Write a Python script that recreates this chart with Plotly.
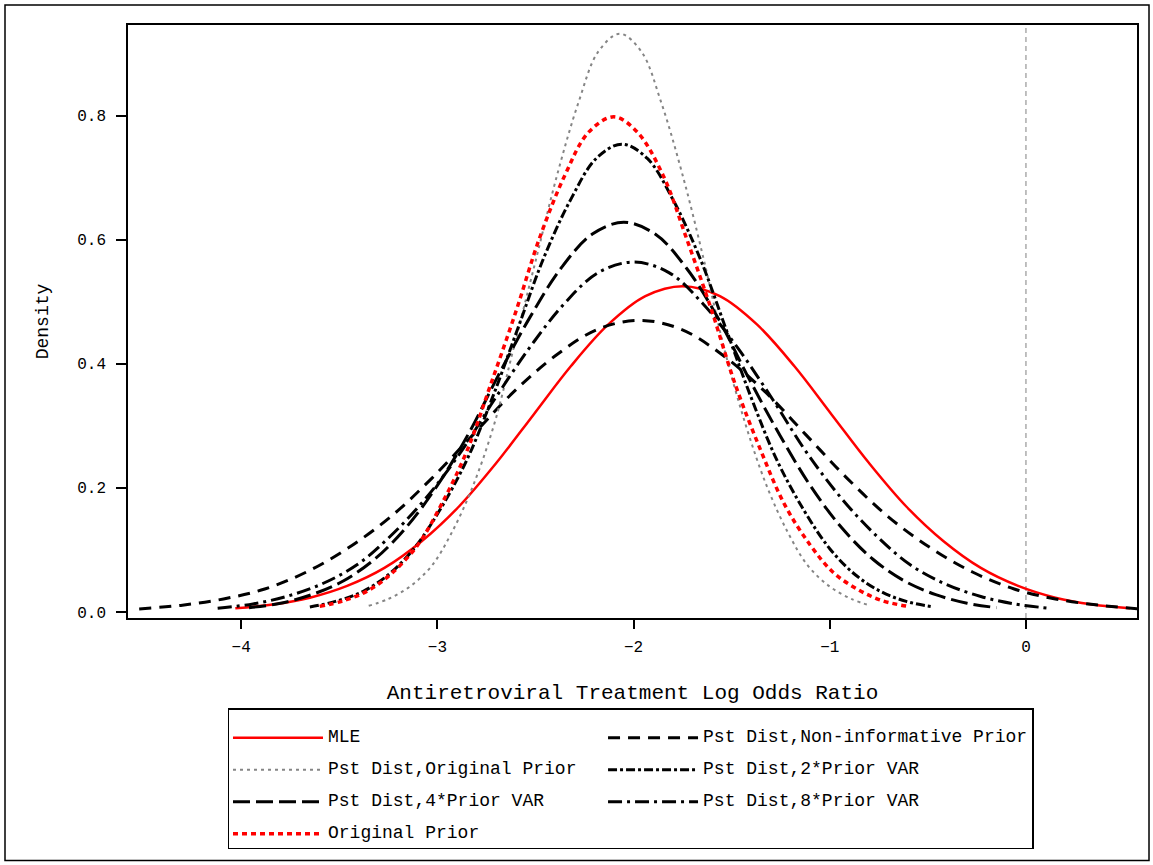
import plotly.graph_objects as go

# ---- data ----
mle_x = [-4.03, -3.84, -3.65, -3.46, -3.27, -3.08, -2.89, -2.70, -2.51, -2.32, -2.13, -1.94, -1.75,
         -1.56, -1.37, -1.18, -0.99, -0.80, -0.61, -0.42, -0.23, -0.04, 0.15, 0.34, 0.53]
mle_y = [0.006, 0.012, 0.023, 0.042, 0.071, 0.114, 0.170, 0.240, 0.318, 0.396, 0.463, 0.509, 0.525,
         0.509, 0.463, 0.396, 0.318, 0.240, 0.170, 0.114, 0.071, 0.042, 0.023, 0.012, 0.006]

noninf_x = [-4.52, -4.30, -4.09, -3.88, -3.67, -3.46, -3.24, -3.03, -2.82, -2.61, -2.39, -2.18, -1.97,
            -1.76, -1.55, -1.33, -1.12, -0.91, -0.70, -0.48, -0.27, -0.06, 0.15, 0.37, 0.58]
noninf_y = [0.005, 0.011, 0.021, 0.037, 0.064, 0.102, 0.153, 0.215, 0.285, 0.355, 0.415, 0.456, 0.470,
            0.456, 0.415, 0.355, 0.285, 0.215, 0.153, 0.102, 0.064, 0.037, 0.021, 0.011, 0.005]

pstorig_x = [-3.35, -3.25, -3.14, -3.03, -2.93, -2.82, -2.71, -2.61, -2.50, -2.39, -2.28, -2.18, -2.07,
             -1.96, -1.86, -1.75, -1.64, -1.54, -1.43, -1.32, -1.21, -1.11, -1.00, -0.89, -0.79]
pstorig_y = [0.010, 0.021, 0.041, 0.074, 0.126, 0.202, 0.303, 0.427, 0.565, 0.704, 0.822, 0.903, 0.932,
             0.903, 0.822, 0.704, 0.565, 0.427, 0.303, 0.202, 0.126, 0.074, 0.041, 0.021, 0.010]

var2_x = [-3.65, -3.52, -3.38, -3.25, -3.12, -2.99, -2.85, -2.72, -2.59, -2.46, -2.32, -2.19, -2.06,
          -1.93, -1.80, -1.66, -1.53, -1.40, -1.27, -1.13, -1.00, -0.87, -0.74, -0.61, -0.47]
var2_y = [0.008, 0.017, 0.033, 0.060, 0.102, 0.163, 0.245, 0.345, 0.457, 0.569, 0.665, 0.731, 0.754,
          0.731, 0.665, 0.569, 0.457, 0.345, 0.245, 0.163, 0.102, 0.060, 0.033, 0.017, 0.008]

var4_x = [-3.96, -3.80, -3.64, -3.48, -3.32, -3.16, -3.00, -2.84, -2.69, -2.53, -2.37, -2.21, -2.05,
          -1.89, -1.73, -1.57, -1.42, -1.26, -1.10, -0.94, -0.78, -0.62, -0.46, -0.30, -0.15]
var4_y = [0.007, 0.014, 0.028, 0.050, 0.085, 0.136, 0.204, 0.288, 0.381, 0.474, 0.554, 0.609, 0.628,
          0.609, 0.554, 0.474, 0.381, 0.288, 0.204, 0.136, 0.085, 0.050, 0.028, 0.014, 0.007]

var8_x = [-4.12, -3.94, -3.77, -3.59, -3.41, -3.24, -3.06, -2.88, -2.71, -2.53, -2.35, -2.18, -2.00,
          -1.82, -1.65, -1.47, -1.29, -1.12, -0.94, -0.76, -0.59, -0.41, -0.23, -0.06, 0.12]
var8_y = [0.006, 0.013, 0.025, 0.045, 0.076, 0.122, 0.183, 0.258, 0.342, 0.426, 0.498, 0.547, 0.564,
          0.547, 0.498, 0.426, 0.342, 0.258, 0.183, 0.122, 0.076, 0.045, 0.025, 0.013, 0.006]

prior_x = [-3.60, -3.48, -3.35, -3.23, -3.10, -2.98, -2.85, -2.73, -2.60, -2.48, -2.35, -2.23, -2.10,
           -1.98, -1.85, -1.73, -1.60, -1.48, -1.35, -1.23, -1.10, -0.98, -0.85, -0.73, -0.60]
prior_y = [0.009, 0.018, 0.035, 0.063, 0.108, 0.173, 0.259, 0.365, 0.484, 0.602, 0.704, 0.773, 0.798,
           0.773, 0.704, 0.602, 0.484, 0.365, 0.259, 0.173, 0.108, 0.063, 0.035, 0.018, 0.009]

x_ticks = [-4, -3, -2, -1, 0]
y_ticks = [0.0, 0.2, 0.4, 0.6, 0.8]

FONT = "Liberation Mono, DejaVu Sans Mono, monospace"


def legend_label(text, pad=0):
    # blank first line gives the taller legend rows of the original
    return "<br><span style='font-size:18px'>" + text + "\u00a0" * pad + "</span>"


fig = go.Figure()

# (name, x, y, line style, legend column group, padding)
series = [
    ("MLE", mle_x, mle_y, dict(color="#ff0000", width=2.5, dash="solid"), "a", 0),
    ("Pst Dist,Non-informative Prior", noninf_x, noninf_y,
     dict(color="black", width=3, dash="12px,8px"), "b", 0),
    ("Pst Dist,Original Prior", pstorig_x, pstorig_y,
     dict(color="#858585", width=2, dash="3px,4px"), "a", 2),
    ("Pst Dist,2*Prior VAR", var2_x, var2_y,
     dict(color="black", width=3, dash="9px,3px,3px,3px"), "b", 0),
    ("Pst Dist,4*Prior VAR", var4_x, var4_y,
     dict(color="black", width=3, dash="17px,6px"), "a", 0),
    ("Pst Dist,8*Prior VAR", var8_x, var8_y,
     dict(color="black", width=3, dash="14px,5px,3px,5px"), "b", 0),
    ("Original Prior", prior_x, prior_y,
     dict(color="#ff0000", width=3.5, dash="5px,4px"), "a", 0),
]

for name, xs, ys, line, grp, pad in series:
    fig.add_trace(go.Scatter(
        x=xs, y=ys, mode="lines", name=legend_label(name, pad), legendgroup=grp,
        line=dict(shape="spline", smoothing=1.0, **line),
        hovertemplate=name + ": %{x}, %{y}<extra></extra>",
    ))

# vertical reference line at 0
fig.add_shape(type="line", xref="x", yref="paper", x0=0, x1=0, y0=0, y1=1,
              line=dict(color="#808080", width=1, dash="5px,4px"), layer="below")

# outer frame around the whole picture
fig.add_shape(type="rect", xref="paper", yref="paper",
              x0=-0.1219, x1=1.0119, y0=-0.409, y1=1.0337,
              line=dict(color="black", width=1.5), fillcolor="rgba(0,0,0,0)")

fig.update_layout(
    width=1153, height=865,
    margin=dict(l=128, r=16, t=25, b=247),
    paper_bgcolor="white", plot_bgcolor="white",
    font=dict(family=FONT, color="black", size=16),
    showlegend=True,
    legend=dict(
        orientation="h", x=0.0991, y=-0.1518, xanchor="left", yanchor="top",
        bordercolor="black", borderwidth=1.5, bgcolor="white",
        font=dict(family=FONT, size=11.15, color="black"),
        itemwidth=90, traceorder="grouped", valign="bottom",
        tracegroupgap=0, itemclick=False, itemdoubleclick=False,
    ),
    xaxis=dict(
        range=[-4.577, 0.566], tickvals=x_ticks,
        ticks="outside", ticklen=9, tickwidth=1.5, tickcolor="black",
        showline=True, linecolor="black", linewidth=1.5, mirror=True,
        showgrid=False, zeroline=False, ticklabelstandoff=4,
        tickfont=dict(family=FONT, size=16),
        title=dict(text="Antiretroviral Treatment Log Odds Ratio",
                   font=dict(family=FONT, size=21), standoff=28),
    ),
    yaxis=dict(
        range=[-0.0097, 0.946], tickvals=y_ticks, tickformat=".1f",
        ticks="outside", ticklen=10, tickwidth=1.5, tickcolor="black",
        showline=True, linecolor="black", linewidth=1.5, mirror=True,
        showgrid=False, zeroline=False, ticklabelstandoff=7,
        tickfont=dict(family=FONT, size=16),
        title=dict(text="Density", font=dict(family=FONT, size=18), standoff=24),
    ),
)

fig.write_html("out.html")
